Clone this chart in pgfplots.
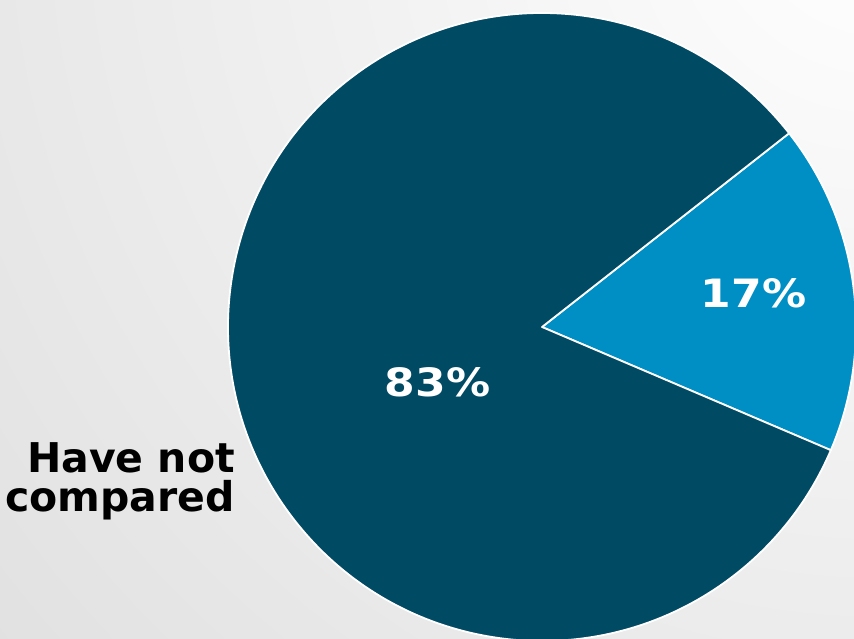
\documentclass[border=0pt]{standalone}
\usepackage{pgfplots}
\pgfplotsset{compat=1.18}
\usepackage{pgfplotstable}
\usepackage{graphicx}
\usepackage{fontspec}
\setmainfont{DejaVu Sans}
\definecolor{darkslice}{RGB}{0,74,99}
\definecolor{lightslice}{RGB}{0,143,197}
\definecolor{bggray}{RGB}{224,224,224}

\pgfplotstableread{
label value
Compared 17
Havenot 83
}\piedata

\begin{document}
\begin{tikzpicture}
\pgfplotstablegetelem{0}{value}\of\piedata \let\vA\pgfplotsretval
\pgfplotstablegetelem{1}{value}\of\piedata \let\vB\pgfplotsretval
\pgfmathsetmacro\aStart{-23.1}
\pgfmathsetmacro\aMid{\aStart+3.6*\vA}
\pgfmathsetmacro\aEnd{\aMid+3.6*\vB}
\begin{axis}[x=1pt,y=1pt,xmin=0,xmax=854,ymin=0,ymax=639,
  hide axis, scale only axis, disabledatascaling, clip=true]
\shade[inner color=white, outer color=bggray] (axis cs:880,739) circle[radius=1200];
\filldraw[fill=lightslice, draw=white, line width=1.8pt, line join=round]
  (axis cs:542,312) -- ++(\aStart:314pt) arc[start angle=\aStart, end angle=\aMid, radius=314pt] -- cycle;
\filldraw[fill=darkslice, draw=white, line width=1.8pt, line join=round]
  (axis cs:542,312) -- ++(\aMid:314pt) arc[start angle=\aMid, end angle=\aEnd, radius=314pt] -- cycle;
\node[font=\bfseries\fontsize{39}{39}\selectfont, text=white, inner sep=0pt] at (axis cs:437.5,256.5) {\scalebox{1.13}[1]{\vB\%}};
\node[font=\bfseries\fontsize{39}{39}\selectfont, text=white, inner sep=0pt] at (axis cs:753.5,346) {\scalebox{1.13}[1]{\vA\%}};
\node[font=\bfseries\fontsize{41}{41}\selectfont, text=black, inner sep=0pt, anchor=base east] at (axis cs:235,166) {Have not};
\node[font=\bfseries\fontsize{41}{41}\selectfont, text=black, inner sep=0pt, anchor=base east] at (axis cs:235,127) {compared};
\end{axis}
\pgfresetboundingbox
\useasboundingbox (current axis.south west) rectangle (current axis.north east);
\end{tikzpicture}
\end{document}
